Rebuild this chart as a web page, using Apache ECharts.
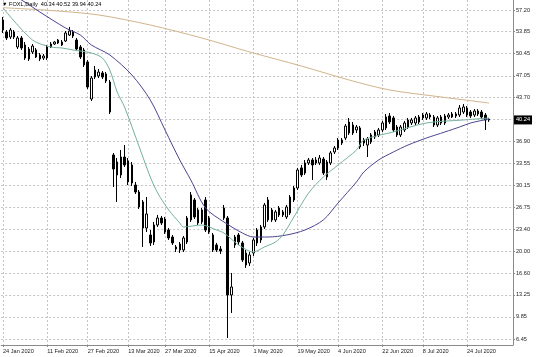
<!DOCTYPE html>
<html><head><meta charset="utf-8">
<script src="https://cdn.jsdelivr.net/npm/echarts@6/dist/echarts.min.js"></script>
<style>html,body{margin:0;padding:0;background:#fff}#c{width:536px;height:357px}</style>
</head><body><div id="c"></div>
<script>
const dates = [
'24 Jan 2020','27 Jan 2020','28 Jan 2020','29 Jan 2020','30 Jan 2020','31 Jan 2020',
'3 Feb 2020','4 Feb 2020','5 Feb 2020','6 Feb 2020','7 Feb 2020','10 Feb 2020','11 Feb 2020','12 Feb 2020','13 Feb 2020','14 Feb 2020','18 Feb 2020','19 Feb 2020','20 Feb 2020','21 Feb 2020','24 Feb 2020','25 Feb 2020','26 Feb 2020','27 Feb 2020','28 Feb 2020',
'2 Mar 2020','3 Mar 2020','4 Mar 2020','5 Mar 2020','6 Mar 2020','9 Mar 2020','10 Mar 2020','11 Mar 2020','12 Mar 2020','13 Mar 2020','16 Mar 2020','17 Mar 2020','18 Mar 2020','19 Mar 2020','20 Mar 2020','23 Mar 2020','24 Mar 2020','25 Mar 2020','26 Mar 2020','27 Mar 2020','30 Mar 2020','31 Mar 2020',
'1 Apr 2020','2 Apr 2020','3 Apr 2020','6 Apr 2020','7 Apr 2020','8 Apr 2020','9 Apr 2020','13 Apr 2020','14 Apr 2020','15 Apr 2020','16 Apr 2020','17 Apr 2020','20 Apr 2020','21 Apr 2020','22 Apr 2020','23 Apr 2020','24 Apr 2020','27 Apr 2020','28 Apr 2020','29 Apr 2020','30 Apr 2020',
'1 May 2020','4 May 2020','5 May 2020','6 May 2020','7 May 2020','8 May 2020','11 May 2020','12 May 2020','13 May 2020','14 May 2020','15 May 2020','18 May 2020','19 May 2020','20 May 2020','21 May 2020','22 May 2020','26 May 2020','27 May 2020','28 May 2020','29 May 2020',
'1 Jun 2020','2 Jun 2020','3 Jun 2020','4 Jun 2020','5 Jun 2020','8 Jun 2020','9 Jun 2020','10 Jun 2020','11 Jun 2020','12 Jun 2020','15 Jun 2020','16 Jun 2020','17 Jun 2020','18 Jun 2020','19 Jun 2020','22 Jun 2020','23 Jun 2020','24 Jun 2020','25 Jun 2020','26 Jun 2020','29 Jun 2020','30 Jun 2020',
'1 Jul 2020','2 Jul 2020','6 Jul 2020','7 Jul 2020','8 Jul 2020','9 Jul 2020','10 Jul 2020','13 Jul 2020','14 Jul 2020','15 Jul 2020','16 Jul 2020','17 Jul 2020','20 Jul 2020','21 Jul 2020','22 Jul 2020','23 Jul 2020','24 Jul 2020','27 Jul 2020','28 Jul 2020','29 Jul 2020','30 Jul 2020','31 Jul 2020',
'3 Aug 2020',
'4 Aug 2020','5 Aug 2020','6 Aug 2020','7 Aug 2020','10 Aug 2020','11 Aug 2020'
];
// [open, close, low, high]
const ohlc = [
[55.66,54.11,53.65,56.12],[53.80,52.88,52.57,54.11],[53.03,54.11,52.72,54.42],[53.80,53.03,52.72,54.11],[51.49,52.88,51.18,53.19],
[52.88,51.34,51.03,53.19],[51.80,49.79,49.49,52.26],[49.64,51.18,49.33,51.49],[50.72,51.64,50.41,51.95],[51.03,49.95,49.79,51.34],
[50.26,49.64,49.33,50.56],[49.79,50.10,49.49,50.41],[49.79,51.49,49.49,51.80],[51.49,51.95,51.34,52.26],[51.95,52.26,51.80,52.42],
[52.11,52.57,51.95,52.72],[51.80,52.26,51.64,52.57],[52.42,53.65,52.26,53.96],[53.34,53.96,53.19,54.58],[53.80,53.19,52.88,54.11],
[52.57,51.18,50.87,52.88],[51.49,49.95,49.64,51.80],[51.03,48.71,48.40,51.34],[49.18,45.32,45.01,49.49],[43.47,46.71,43.16,47.02],
[47.94,46.86,46.55,48.56],[47.02,47.63,46.71,48.10],[47.48,46.86,46.55,47.79],[47.33,46.25,45.94,47.63],[46.09,41.46,41.16,46.40],
[34.83,32.67,29.90,35.14],[31.75,33.75,27.58,34.37],[31.75,34.52,31.28,35.60],[34.52,33.29,32.98,36.37],[30.67,33.91,30.20,34.37],
[33.29,30.51,30.05,33.75],[30.20,29.12,28.82,30.67],[29.12,26.81,26.50,29.43],[27.58,23.57,20.64,27.89],[23.57,25.73,22.95,28.35],
[22.49,21.26,20.79,23.26],[21.41,24.03,20.95,24.50],[24.03,25.11,23.73,25.58],[25.11,24.34,24.03,25.42],[24.96,22.95,22.65,25.27],
[23.26,22.03,21.72,23.57],[22.18,21.26,20.95,22.49],[20.64,20.33,19.87,20.95],[20.18,21.10,19.71,21.41],[20.18,22.03,19.87,22.34],
[21.41,25.11,21.10,25.42],[24.81,28.66,24.50,29.12],[27.89,25.27,24.96,28.20],[26.35,24.34,24.03,26.66],[24.50,26.35,24.19,26.66],
[27.89,23.26,22.95,28.35],[25.11,22.95,22.65,25.42],[22.49,20.18,19.87,22.80],[20.95,20.18,19.87,21.26],[20.33,20.02,19.56,20.79],
[26.66,25.11,24.81,27.12],[25.11,13.24,6.60,25.42],[13.24,14.47,10.46,16.63],[20.95,22.18,20.49,22.49],[22.49,21.41,20.95,22.80],
[21.26,18.64,18.33,21.57],[19.71,17.86,17.40,20.18],[18.17,19.41,17.71,19.87],[19.71,21.72,19.25,22.03],[21.26,23.26,20.79,23.57],
[21.72,23.73,21.26,24.03],[23.73,27.12,23.42,27.43],[27.89,24.81,24.50,28.35],[24.81,26.35,24.50,26.66],[24.81,26.04,24.50,26.35],
[26.66,25.58,25.27,26.96],[25.58,26.04,25.27,26.35],[25.27,26.81,24.96,27.12],[25.89,28.35,25.58,28.66],[27.89,29.74,27.58,30.05],
[29.74,32.52,29.43,32.83],[32.83,31.75,31.44,33.29],[32.05,33.60,31.75,34.06],[33.60,34.06,33.29,34.37],[34.06,33.29,30.98,34.37],
[33.60,34.06,33.29,34.52],[33.60,34.37,33.29,34.83],[34.21,32.05,31.75,34.52],[33.75,31.44,30.98,34.06],[33.60,35.14,33.29,35.45],
[35.29,35.91,34.99,36.22],[35.91,37.14,35.60,37.45],[36.68,37.14,36.37,37.45],[37.45,39.30,37.14,39.61],[38.22,39.92,37.92,40.54],
[39.46,38.22,37.92,39.92],[38.69,39.15,38.22,39.46],[39.00,36.07,35.76,39.30],[36.68,37.14,36.22,37.45],[36.37,37.30,34.52,37.61],
[36.84,37.92,36.53,38.22],[37.61,38.38,37.30,38.69],[37.92,38.69,37.61,39.00],[38.69,39.77,38.38,40.08],[39.00,40.69,38.69,41.16],
[40.85,39.92,39.61,41.31],[40.54,38.69,38.38,40.85],[39.15,37.92,37.61,39.46],[37.92,39.15,37.61,39.46],[38.69,39.77,38.38,40.08],
[39.15,40.23,38.84,40.54],[39.77,40.23,39.46,40.54],[39.77,40.54,39.46,40.85],[39.92,40.69,39.61,41.00],[40.54,41.00,40.23,41.31],
[40.54,41.16,40.23,41.46],[41.00,40.69,40.38,41.31],[40.69,39.46,39.15,41.00],[39.46,40.54,39.15,40.85],[40.69,39.77,39.46,41.00],
[39.77,40.85,39.46,41.16],[40.69,41.00,40.38,41.31],[41.16,40.69,40.54,41.46],[40.85,41.16,40.54,41.46],[41.00,42.08,40.69,42.54],
[41.46,42.24,41.16,42.70],[42.08,41.00,40.69,42.39],[41.46,40.85,40.54,41.77],[41.00,41.62,40.69,41.93],[41.16,41.62,40.85,41.93],
[41.46,40.69,40.38,41.77],[41.00,40.23,38.69,41.31],[40.34,40.24,39.94,40.52]
];
// moving averages: [bar index, value]
const maFast = [[0,57.51],[8,52.57],[13,51.49],[16,51.34],[19,51.03],[24,50.57],[27,49.79],[29,47.94],[31,44.55],[33,42.24],[37,36.07],[40,31.44],[42,28.97],[45,26.35],[48,24.34],[49,23.73],[54,24.03],[58,23.26],[60,22.80],[64,20.95],[68,19.87],[71,20.64],[74,21.41],[76,22.49],[79,25.27],[83,28.97],[87,31.44],[91,33.29],[96,35.60],[98,37.15],[106,38.38],[115,39.77],[125,40.23],[132,40.54]];
const maMid = [[0,59.97],[5,58.74],[10,56.89],[17,54.42],[21,53.34],[24,51.80],[29,50.26],[35,47.17],[40,43.32],[44,38.69],[48,34.06],[51,30.98],[55,26.66],[60,24.50],[65,22.80],[68,22.18],[72,22.18],[77,22.49],[82,23.26],[87,24.81],[91,27.43],[96,30.67],[98,32.21],[102,34.06],[106,35.29],[110,36.37],[115,37.45],[120,38.38],[124,39.15],[127,39.77],[132,40.39]];
const maSlow = [[0,57.55],[13,57.12],[26,56.43],[40,54.88],[54,52.88],[67,50.72],[81,48.56],[94,46.40],[105,44.86],[119,43.78],[132,42.85]];
const dateTicks = ['24 Jan 2020','11 Feb 2020','27 Feb 2020','13 Mar 2020','27 Mar 2020','15 Apr 2020','1 May 2020','19 May 2020','4 Jun 2020','22 Jun 2020','8 Jul 2020','24 Jul 2020'];
const priceTicks = [6.45,9.85,13.25,16.60,20.00,23.40,26.75,30.15,33.55,36.90,43.70,47.05,50.45,53.85,57.20];
const gridLevels = [6.45,9.85,13.25,16.60,20.00,23.40,26.75,30.15,33.55,36.90,40.28,43.70,47.05,50.45,53.85,57.20];
const lastPrice = 40.24;
const symbolName = 'FOXL,Daily';
const lastBar = [40.34, 40.52, 39.94, 40.24];

const FONT = 'Liberation Sans, DejaVu Sans, sans-serif';
const tickSet = new Set(dateTicks);
const showDate = (i, v) => tickSet.has(v);
const gridStyle = {color: '#c4c4c4', type: [2, 2], width: 1};

const chart = echarts.init(document.getElementById('c'), null, {renderer: 'canvas'});
chart.setOption({
  animation: false,
  backgroundColor: '#fff',
  title: {
    text: '\u25BC ' + symbolName + '  ' + lastBar.map(v => v.toFixed(2)).join(' '),
    left: 2, top: 1, padding: 0,
    textStyle: {fontSize: 5.6, fontWeight: 'normal', color: '#000', fontFamily: FONT}
  },
  grid: {left: 1, right: 23, top: 0, bottom: 12, containLabel: false},
  xAxis: {
    type: 'category', data: dates, boundaryGap: true,
    axisLine: {show: true, lineStyle: {color: '#8a8a8a'}},
    axisTick: {show: true, alignWithLabel: true, interval: showDate, length: 2, lineStyle: {color: '#8a8a8a'}},
    axisLabel: {interval: showDate, align: 'left', fontSize: 5.6, color: '#222', margin: 3, fontFamily: FONT},
    splitLine: {show: true, interval: showDate, alignWithLabel: true, lineStyle: gridStyle}
  },
  yAxis: {
    type: 'value', position: 'right', min: 5.52, max: 58.74, scale: true,
    axisLine: {show: true, lineStyle: {color: '#8a8a8a'}},
    axisTick: {show: true, length: 2, customValues: gridLevels, lineStyle: {color: '#8a8a8a'}},
    axisLabel: {customValues: priceTicks, formatter: v => v.toFixed(2), fontSize: 5.6, color: '#222', margin: 3, fontFamily: FONT},
    splitLine: {show: true, lineStyle: gridStyle}
  },
  series: [
    {
      type: 'candlestick', data: ohlc, barWidth: 2,
      itemStyle: {color: '#fff', color0: '#000', borderColor: '#000', borderColor0: '#000', borderWidth: 1},
      markLine: {
        silent: true, symbol: ['none', 'none'], animation: false,
        lineStyle: {color: 'rgba(0,0,0,0)', width: 1},
        label: {show: true, position: 'end', formatter: lastPrice.toFixed(2), color: '#fff', backgroundColor: '#000',
          padding: [2, 2, 1, 2], fontSize: 5.6, distance: 1, fontFamily: FONT},
        data: [{yAxis: lastPrice}]
      }
    },
    {type: 'line', data: maSlow, showSymbol: false, symbol: 'none', smooth: 0.3, lineStyle: {color: '#d2b48c', width: 1}},
    {type: 'line', data: maMid, showSymbol: false, symbol: 'none', smooth: 0.3, lineStyle: {color: '#4b4590', width: 1}},
    {type: 'line', data: maFast, showSymbol: false, symbol: 'none', smooth: 0.3, lineStyle: {color: '#74b09e', width: 1}}
  ]
});
</script></body></html>
